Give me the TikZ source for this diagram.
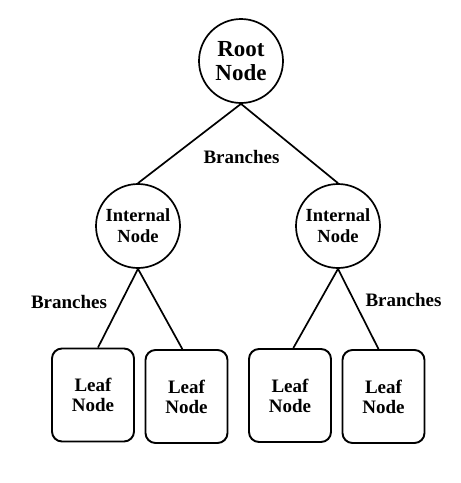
\documentclass[tikz,border=0pt]{standalone}
\usepackage{fontspec}
\setmainfont{Liberation Serif}
\begin{document}
\begin{tikzpicture}[x=1pt,y=-1pt,
  treecircle/.style={circle,draw=black,line width=1.7pt,inner sep=0pt,
    minimum size=84pt,align=center,font=\bfseries},
  leafbox/.style={rectangle,rounded corners=10pt,draw=black,line width=1.9pt,
    minimum width=82pt,minimum height=93pt,inner sep=0pt,align=center,
    font=\fontsize{19}{20}\selectfont\bfseries},
  branch/.style={draw=black,line width=1.7pt},
  branchlabel/.style={font=\fontsize{19}{21}\selectfont\bfseries,inner sep=0pt}]
  \useasboundingbox (0,0) rectangle (461,483);

  % root and internal nodes
  \node[treecircle,font=\fontsize{23}{24}\selectfont\bfseries] (root) at (241,61) {Root\\Node};
  \node[treecircle,font=\fontsize{18.5}{21}\selectfont\bfseries] (intL) at (138,226) {Internal\\Node};
  \node[treecircle,font=\fontsize{18.5}{21}\selectfont\bfseries] (intR) at (338,226) {Internal\\Node};

  % leaves
  \node[leafbox] (leafA) at (93,395) {Leaf\\Node};
  \node[leafbox] (leafB) at (186.5,396.5) {Leaf\\Node};
  \node[leafbox] (leafC) at (290,395.5) {Leaf\\Node};
  \node[leafbox] (leafD) at (383.5,396.5) {Leaf\\Node};

  % branches
  \draw[branch] (root.south) -- (intL.north);
  \draw[branch] (root.south) -- (intR.north);
  \draw[branch] (intL.south) -- (leafA.84);
  \draw[branch] (intL.south) -- (leafB.95);
  \draw[branch] (intR.south) -- (leafC.86);
  \draw[branch] (intR.south) -- (leafD.96);

  % branch labels
  \node[branchlabel] (lblTop) at (241.5,157) {Branches};
  \node[branchlabel] (lblLeft) at (69,302) {Branches};
  \node[branchlabel] (lblRight) at (403.5,300) {Branches};
\end{tikzpicture}
\end{document}
